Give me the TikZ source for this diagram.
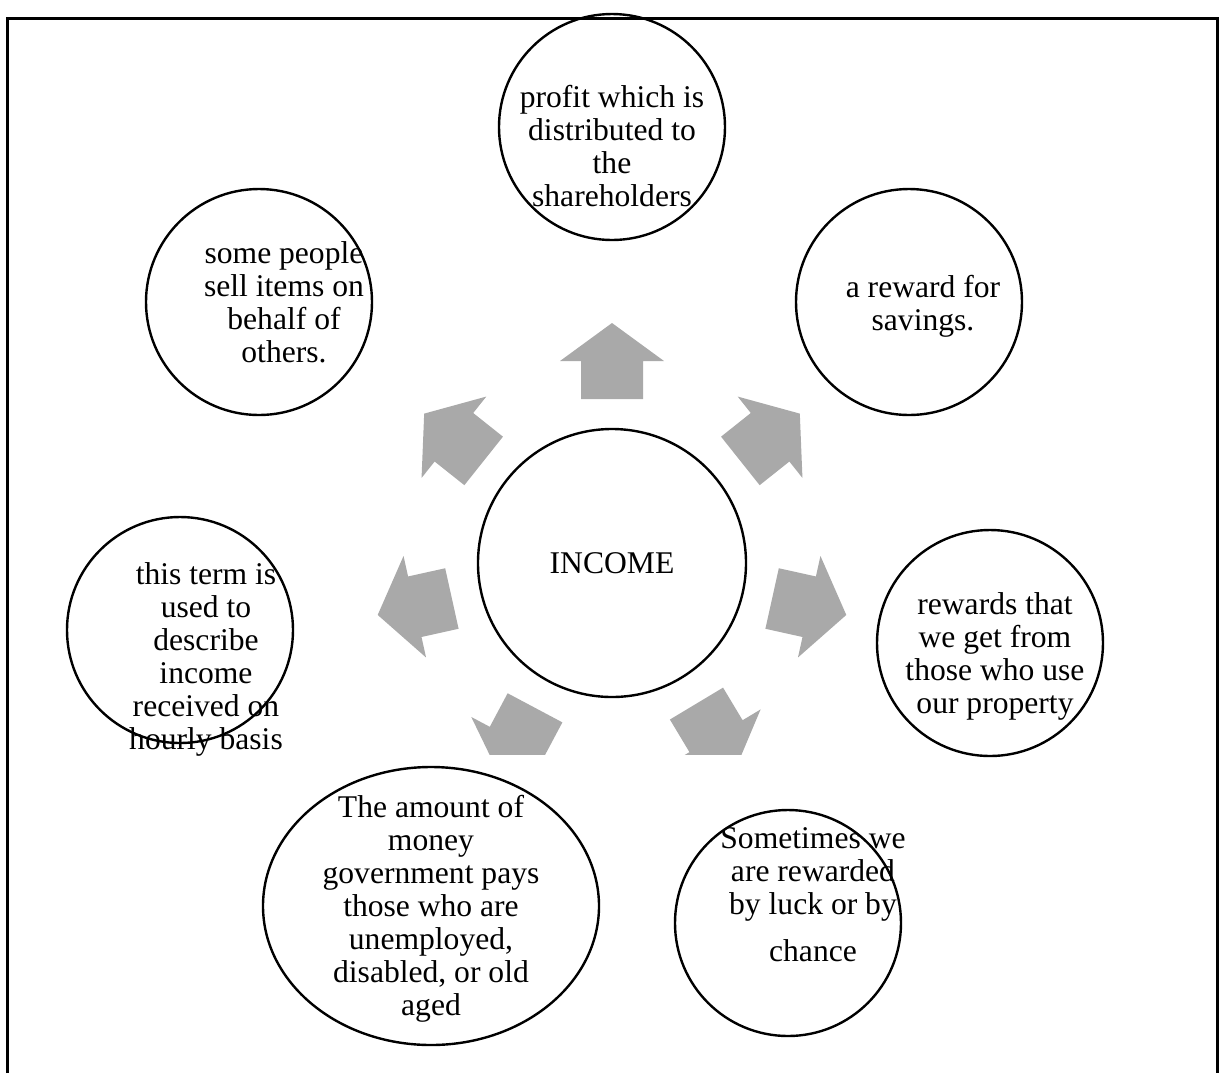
\documentclass[tikz,border=0pt]{standalone}
\usepackage{fontspec}
\setmainfont{Liberation Serif}
\usetikzlibrary{shapes.geometric}
\definecolor{arrgray}{RGB}{169,169,169}

\begin{document}
\begin{tikzpicture}[x=0.5pt,y=-0.5pt,
        bubble/.style={draw,circle,line width=1.2pt,minimum size=113pt,inner sep=0pt},
        txt/.style={align=center,inner sep=0pt,font=\fontsize{15.8}{16.5}\selectfont}]
        \useasboundingbox (0,0) rectangle (1222,1073);
        \draw[line width=1.5pt] (7,1073) -- (7,18) -- (1217,18) -- (1217,1073);
        % centre
        \node[bubble,minimum size=134pt] (income) at (612,563) {};
        \node[txt] (income-t) at (612,563.5) {INCOME};
        % outer bubbles
        \node[bubble] (dividend) at (612,127) {};
        \node[bubble] (interest) at (909,302) {};
        \node[bubble] (rent) at (990,643) {};
        \node[bubble] (luck) at (788,923) {};
        \node[draw,ellipse,line width=1.2pt,minimum width=168pt,minimum height=139pt,inner sep=0pt] (pension) at (431,906) {};
        \node[bubble] (wage) at (180,630) {};
        \node[bubble] (commission) at (259,302) {};
        \node[txt] (dividend-t) at (612,146) {profit which is\\distributed to\\the\\shareholders};
        \node[txt] (interest-t) at (923,306) {a reward for\\savings.};
        \node[txt] (rent-t) at (995,656) {rewards that\\we get from\\those who use\\our property};
        \node[txt] (luck-t) at (813,895) {Sometimes we\\are rewarded\\by luck or by\\[7pt]chance};
        \node[txt] (pension-t) at (431,909) {The amount of\\money\\government pays\\those who are\\unemployed,\\disabled, or old\\aged};
        \node[txt] (wage-t) at (206,659) {this term is\\used to\\describe\\income\\received on\\hourly basis};
        \node[txt] (commission-t) at (284,302) {some people\\sell items on\\behalf of\\others.};
        % block arrows
        \begin{scope}
            \clip (0,0) rectangle (1222,754);
            \foreach \a in {90,38.5,-12.5,-59,-118,-167.5,141.5}
                \fill[arrgray,shift={(income.center)},rotate=\a] (164,-31) -- (202,-31) -- (202,-52) -- (240,0) -- (202,52) -- (202,31) -- (164,31) -- cycle;
        \end{scope}
    \end{tikzpicture}
\end{document}
